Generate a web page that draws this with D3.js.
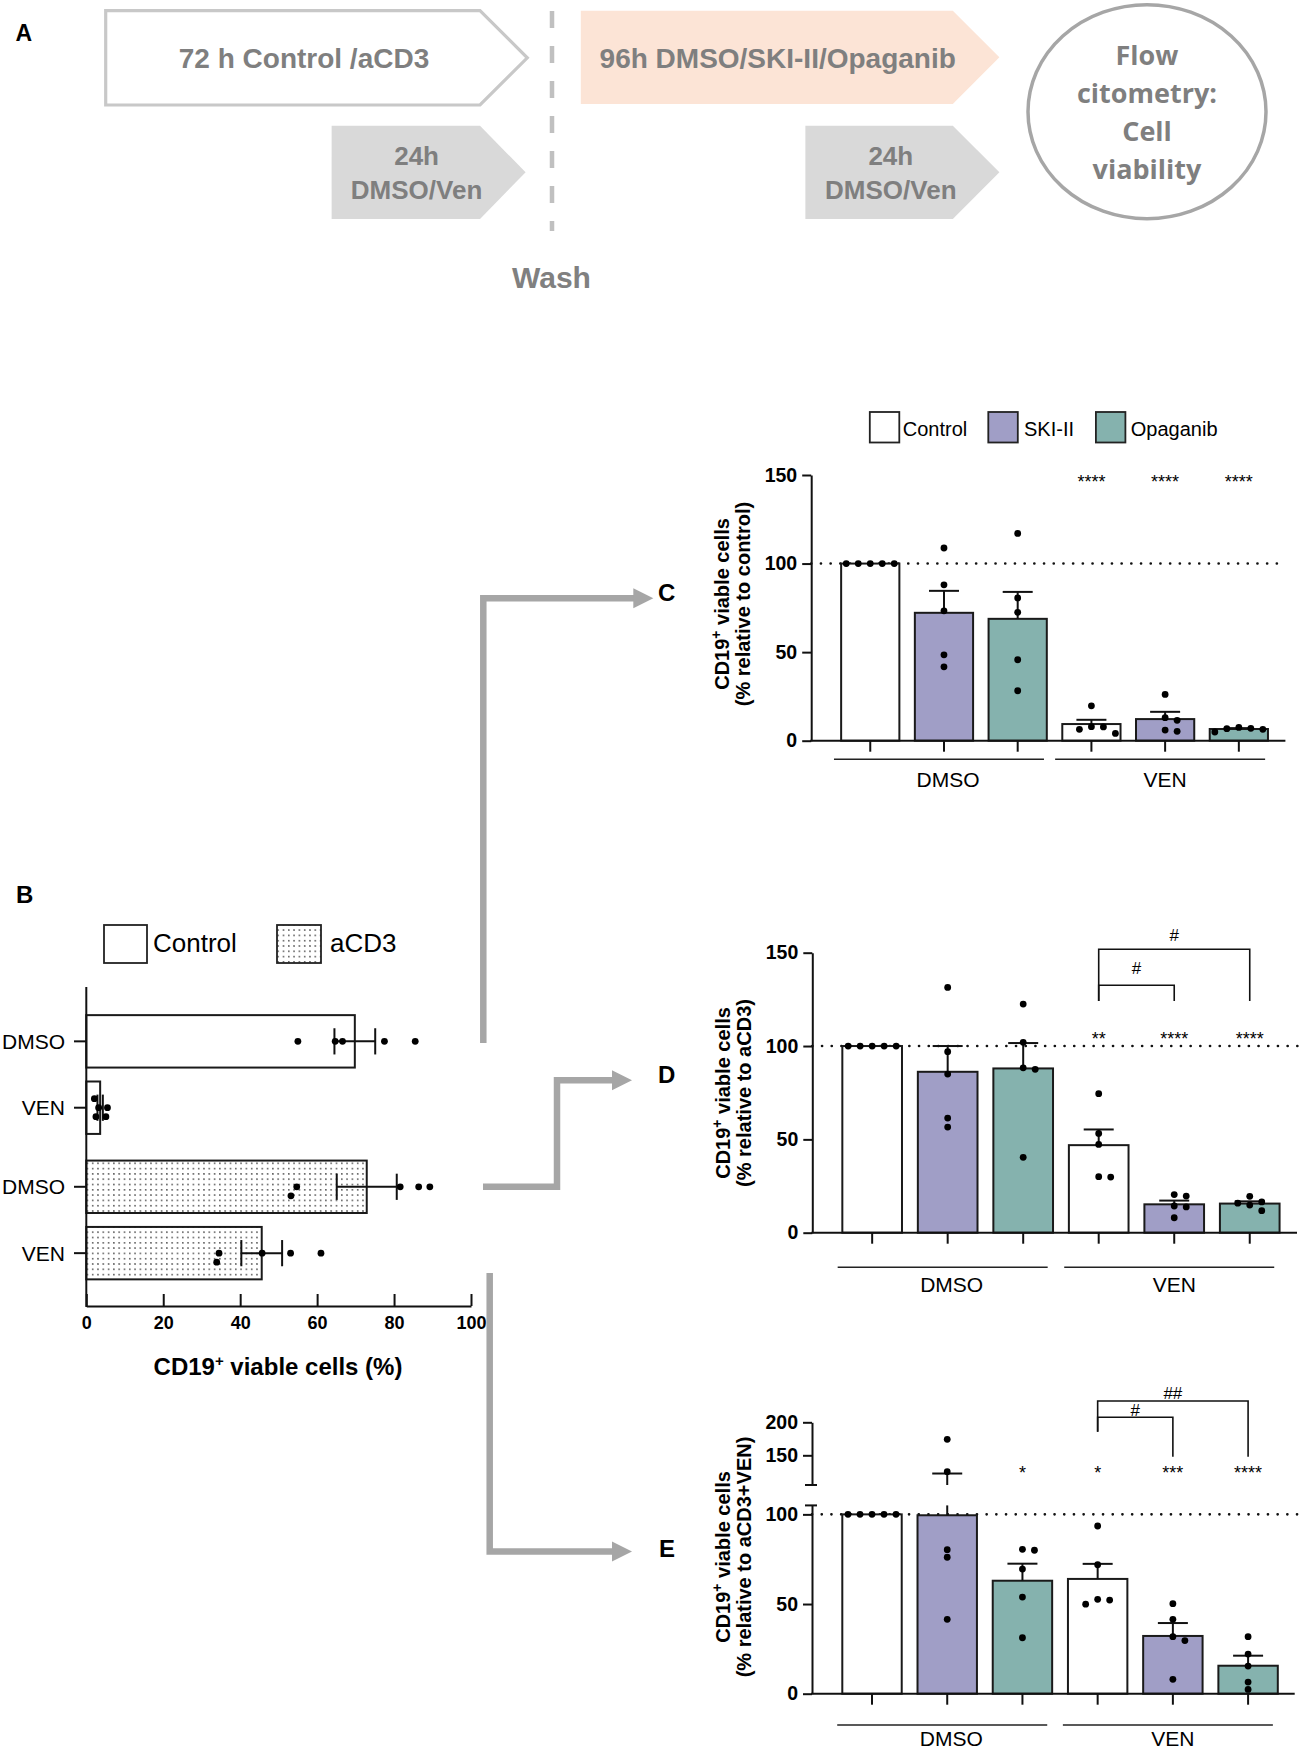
<!DOCTYPE html>
<html><head><meta charset="utf-8">
<script src="https://cdn.jsdelivr.net/npm/d3@7"></script>
<style>body{margin:0;background:#fff}svg{display:block}</style>
</head><body>
<svg id="fig" width="1299" height="1752" xmlns="http://www.w3.org/2000/svg"></svg>
<script>
// ---------------- DATA ----------------
// Panel B
const bGroups = ["Control", "aCD3"];
const bCategories = ["DMSO", "VEN"];
const bMeans = [69.8, 3.6, 72.9, 45.6];
const bSem = [5.3, 0.7, 7.8, 5.3];
const bPoints = [
  [55.0, 64.7, 66.6, 77.5, 85.5],
  [2.1, 2.5, 3.2, 5.1, 5.5],
  [53.2, 54.7, 81.6, 86.4, 89.3],
  [33.9, 34.5, 45.7, 53.1, 61.0]
];
const bTicks = [0, 20, 40, 60, 80, 100];

// Panels C/D/E : 6 bars = DMSO x (Control, SKI-II, Opaganib), VEN x (Control, SKI-II, Opaganib)
const treatments = ["Control", "SKI-II", "Opaganib"];
const groupsCDE = ["DMSO", "VEN"];
const cdeTicks = [0, 50, 100, 150];

const cMeans = [100, 72.2, 68.8, 9.4, 12.2, 6.6];
const cSem = [0, 12.4, 15.2, 2.4, 4.1, 0.5];
const cPoints = [
  [100, 100, 100, 100, 100],
  [108.8, 88.0, 73.3, 48.5, 41.7],
  [117.0, 80.6, 72.5, 45.7, 28.2],
  [19.7, 7.9, 7.8, 6.4, 4.1],
  [26.1, 13.0, 11.5, 6.0, 5.3],
  [7.5, 7.0, 6.8, 6.4, 4.9]
];
const cStars = ["", "", "", "****", "****", "****"];

const dMeans = [100, 86.2, 88.0, 46.9, 15.2, 15.6];
const dSem = [0, 13.8, 13.6, 8.4, 2.0, 1.2];
const dPoints = [
  [100, 100, 100, 100, 100],
  [131.4, 97.0, 85.0, 61.4, 56.6],
  [122.5, 102.0, 88.3, 87.5, 40.4],
  [74.5, 53.2, 47.3, 30.0, 29.8],
  [20.4, 19.6, 14.3, 13.8, 8.0],
  [19.5, 16.5, 15.8, 14.8, 11.8]
];
const dStars = ["", "", "", "**", "****", "****"];
const dBrackets = [{from: 3, to: 4, label: "#"}, {from: 3, to: 5, label: "#"}];

const eMeans = [100, 99.5, 63.0, 64.0, 32.2, 15.6];
const eSem = [0, 22.9, 9.5, 8.4, 7.2, 5.6];
const ePoints = [
  [100, 100, 100, 100, 100],
  [174.2, 125.2, 80.3, 76.1, 41.5],
  [80.5, 80.0, 69.5, 53.9, 31.2],
  [93.5, 71.9, 52.6, 52.2, 49.9],
  [50.2, 41.5, 31.8, 29.6, 8.0],
  [31.8, 22.1, 15.4, 6.5, 2.4]
];
const eStars = ["", "", "*", "*", "***", "****"];
const eBrackets = [{from: 3, to: 4, label: "#"}, {from: 3, to: 5, label: "##"}];
const eTicksLower = [0, 50, 100];
const eTicksUpper = [150, 200];
const eBreakValue = 105;

// ---------------- STYLE ----------------
const F = "'Liberation Sans', Arial, Helvetica, sans-serif";
const treatColors = ["#ffffff", "#a09ec6", "#85b2ae"];
const GRAYTXT = "#7f7f7f";
const ARROW = "#a6a6a6";

const svg = d3.select("#fig");
const defs = svg.append("defs");
const pat = defs.append("pattern").attr("id", "dots").attr("width", 5.3).attr("height", 5.3)
  .attr("patternUnits", "userSpaceOnUse");
pat.append("rect").attr("width", 5.3).attr("height", 5.3).attr("fill", "#fff");
pat.append("circle").attr("cx", 2.6).attr("cy", 2.6).attr("r", 0.75).attr("fill", "#222");

function txt(x, y, s, size, opts = {}) {
  return svg.append("text").attr("x", x).attr("y", y).text(s)
    .attr("font-family", opts.family || F).attr("font-size", size)
    .attr("font-weight", opts.weight || "normal").attr("fill", opts.fill || "#000")
    .attr("text-anchor", opts.anchor || "start");
}

// beeswarm-like offsets computed from values
function swarm(values, toPx, step, minDist) {
  const order = values.map((v, i) => ({v, i, p: toPx(v)})).sort((a, b) => b.v - a.v);
  const placed = [], off = new Array(values.length);
  for (const d of order) {
    for (let k = 0; k < 40; k++) {
      const o = k === 0 ? 0 : (k % 2 === 1 ? 1 : -1) * step * Math.ceil(k / 2);
      if (placed.every(q => Math.hypot(q.p - d.p, q.o - o) >= minDist)) {
        placed.push({p: d.p, o}); off[d.i] = o; break;
      }
    }
  }
  return off;
}

// ---------------- PANEL A (schematic) ----------------
function pentagon(x0, y0, x1, tip, y1) {
  return `M${x0},${y0}H${x1}L${tip},${(y0 + y1) / 2}L${x1},${y1}H${x0}Z`;
}
txt(15.5, 41, "A", 23, {weight: "bold"});
svg.append("path").attr("d", pentagon(105.7, 10.7, 480, 527.3, 105))
  .attr("fill", "#fff").attr("stroke", "#c8c8c8").attr("stroke-width", 3.2);
txt(304, 68, "72 h Control /aCD3", 28, {weight: "bold", fill: GRAYTXT, anchor: "middle"});
svg.append("path").attr("d", pentagon(331.6, 125.7, 480, 525.6, 219)).attr("fill", "#d9d9d9");
txt(416.6, 165, "24h", 26, {weight: "bold", fill: GRAYTXT, anchor: "middle"});
txt(416.6, 199, "DMSO/Ven", 26, {weight: "bold", fill: GRAYTXT, anchor: "middle"});
svg.append("line").attr("x1", 552).attr("x2", 552).attr("y1", 11).attr("y2", 231)
  .attr("stroke", "#c0c0c0").attr("stroke-width", 4.5).attr("stroke-dasharray", "17,18");
txt(551.5, 288, "Wash", 30, {weight: "bold", fill: "#808080", anchor: "middle"});
svg.append("path").attr("d", pentagon(580.8, 10.7, 952.8, 999.4, 104)).attr("fill", "#fce4d6");
txt(777.7, 68, "96h DMSO/SKI-II/Opaganib", 28, {weight: "bold", fill: GRAYTXT, anchor: "middle"});
svg.append("path").attr("d", pentagon(805.4, 125.7, 952.8, 999.4, 219)).attr("fill", "#d9d9d9");
txt(890.8, 165, "24h", 26, {weight: "bold", fill: GRAYTXT, anchor: "middle"});
txt(890.8, 199, "DMSO/Ven", 26, {weight: "bold", fill: GRAYTXT, anchor: "middle"});
svg.append("ellipse").attr("cx", 1147).attr("cy", 111.7).attr("rx", 119).attr("ry", 107)
  .attr("fill", "#fff").attr("stroke", "#a6a6a6").attr("stroke-width", 3.5);
["Flow", "citometry:", "Cell", "viability"].forEach((s, i) =>
  txt(1147, 65 + i * 38, s, 27, {weight: "bold", fill: GRAYTXT, anchor: "middle", family: "'Open Sans', 'Noto Sans', sans-serif"}));

// ---------------- ARROWS ----------------
function arrow(d, tipX, tipY) {
  svg.append("path").attr("d", d).attr("fill", "none").attr("stroke", ARROW).attr("stroke-width", 6.5);
  svg.append("path").attr("d", `M${tipX - 20},${tipY - 10}L${tipX},${tipY}L${tipX - 20},${tipY + 10}Z`).attr("fill", ARROW);
}
arrow("M483.3,1043V598.3H635", 653.3, 598.3);
arrow("M483,1186.7H557V1080.3H614", 632, 1080.3);
arrow("M489.7,1273V1551.5H614", 632, 1551.5);
txt(658, 601, "C", 24, {weight: "bold"});
txt(658, 1083, "D", 24, {weight: "bold"});
txt(659, 1557, "E", 24, {weight: "bold"});

// ---------------- PANEL B ----------------
txt(16, 903, "B", 24, {weight: "bold"});
svg.append("rect").attr("x", 104).attr("y", 925).attr("width", 43).attr("height", 38)
  .attr("fill", "#fff").attr("stroke", "#222").attr("stroke-width", 1.8);
txt(153, 952, bGroups[0], 26);
svg.append("rect").attr("x", 277).attr("y", 925).attr("width", 44).attr("height", 38)
  .attr("fill", "url(#dots)").attr("stroke", "#222").attr("stroke-width", 1.8);
txt(330, 952, bGroups[1], 26);

const bx = d3.scaleLinear().domain([0, 100]).range([86.3, 471]);
const bOuter = d3.scaleBand().domain(bGroups).range([1008.5, 1286]).paddingInner(0.092);
const bInner = d3.scaleBand().domain(bCategories).range([0, bOuter.bandwidth()]).paddingInner(0.21).paddingOuter(0.1);
const bRows = [];
bGroups.forEach((g, gi) => bCategories.forEach((c, ci) => bRows.push({g, c, idx: gi * bCategories.length + ci})));
const bY = r => bOuter(r.g) + bInner(r.c);
const bBW = bInner.bandwidth();
const B = svg.append("g");
B.selectAll("rect.bar").data(bRows).join("rect").attr("class", "bar")
  .attr("x", bx(0)).attr("y", r => bY(r)).attr("height", bBW)
  .attr("width", r => bx(bMeans[r.idx]) - bx(0))
  .attr("fill", r => r.g === "aCD3" ? "url(#dots)" : "#fff")
  .attr("stroke", "#1a1a1a").attr("stroke-width", 2);
bRows.forEach(r => {
  const cy = bY(r) + bBW / 2, m = bMeans[r.idx], s = bSem[r.idx];
  B.append("line").attr("x1", bx(m - s)).attr("x2", bx(m + s)).attr("y1", cy).attr("y2", cy).attr("stroke", "#111").attr("stroke-width", 2);
  [m - s, m + s].forEach(v => B.append("line").attr("x1", bx(v)).attr("x2", bx(v))
    .attr("y1", cy - bBW / 4).attr("y2", cy + bBW / 4).attr("stroke", "#111").attr("stroke-width", 2));
  const vals = bPoints[r.idx];
  const offs = swarm(vals, bx, 9, 7.2);
  vals.forEach((v, j) => B.append("circle").attr("cx", bx(v)).attr("cy", cy + offs[j]).attr("r", 3.4).attr("fill", "#000"));
  // category tick + label
  B.append("line").attr("x1", 74).attr("x2", bx(0)).attr("y1", cy).attr("y2", cy).attr("stroke", "#111").attr("stroke-width", 2);
  B.append("text").attr("x", 65).attr("y", cy + 7.5).attr("text-anchor", "end").attr("font-family", F).attr("font-size", 21).text(r.c);
});
B.append("line").attr("x1", bx(0)).attr("x2", bx(0)).attr("y1", 987).attr("y2", 1307).attr("stroke", "#111").attr("stroke-width", 2);
const bAxis = B.append("g").attr("transform", "translate(0,1306)")
  .call(d3.axisBottom(bx).tickValues(bTicks).tickSizeInner(-12).tickSizeOuter(0).tickPadding(10));
bAxis.selectAll("path,line").attr("stroke", "#111").attr("stroke-width", 2);
bAxis.selectAll("text").attr("font-family", F).attr("font-size", 18).attr("font-weight", "bold").attr("fill", "#000");
{
  const t = txt(278, 1375, "", 24, {weight: "bold", anchor: "middle"});
  t.append("tspan").text("CD19");
  t.append("tspan").attr("dy", -9).attr("font-size", 15).text("+");
  t.append("tspan").attr("dy", 9).text(" viable cells (%)");
}

// ---------------- LEGEND C/D/E ----------------
[[869.8, 902.8], [988.3, 1024], [1095.9, 1130.8]].forEach((p, i) => {
  svg.append("rect").attr("x", p[0]).attr("y", 412).attr("width", 29.5).attr("height", 30.5)
    .attr("fill", treatColors[i]).attr("stroke", "#222").attr("stroke-width", 1.8);
  txt(p[1], 436, treatments[i], 20);
});

// ---------------- PANELS C/D/E ----------------
function barPanel(o) {
  const g = svg.append("g");
  const n = o.means.length;
  const x = d3.scaleBand().domain(d3.range(n)).range(o.xr).paddingInner(0.21).paddingOuter(0.105);
  const cx = i => x(i) + x.bandwidth() / 2;
  const y = o.y, y0 = y(0), ax = o.axisX;
  // dotted reference line at 100
  g.append("line").attr("x1", ax).attr("x2", o.dotEnd).attr("y1", y(100)).attr("y2", y(100))
    .attr("stroke", "#111").attr("stroke-width", 2.6).attr("stroke-dasharray", "0.1,9.6").attr("stroke-linecap", "round");
  // bars
  g.selectAll("rect.bar").data(o.means).join("rect").attr("class", "bar")
    .attr("x", (d, i) => x(i)).attr("width", x.bandwidth())
    .attr("y", d => y(d)).attr("height", d => y0 - y(d))
    .attr("fill", (d, i) => treatColors[i % treatments.length])
    .attr("stroke", "#1a1a1a").attr("stroke-width", 2);
  // error bars (upper SEM)
  o.means.forEach((m, i) => {
    const s = o.sems[i];
    if (!s) return;
    const top = m + s;
    const seg = (a, b) => g.append("line").attr("x1", cx(i)).attr("x2", cx(i)).attr("y1", y(a)).attr("y2", y(b)).attr("stroke", "#111").attr("stroke-width", 2);
    if (o.brk && m < o.brk && top > o.brk) { seg(m, o.brk); g.append("line").attr("x1", cx(i)).attr("x2", cx(i)).attr("y1", o.yUp(o.brk)).attr("y2", y(top)).attr("stroke", "#111").attr("stroke-width", 2); }
    else seg(m, top);
    g.append("line").attr("x1", cx(i) - 15).attr("x2", cx(i) + 15).attr("y1", y(top)).attr("y2", y(top)).attr("stroke", "#111").attr("stroke-width", 2);
  });
  // points
  o.points.forEach((vals, i) => {
    const offs = swarm(vals, y, 12, 7);
    vals.forEach((v, j) => g.append("circle").attr("cx", cx(i) + offs[j]).attr("cy", y(v)).attr("r", 3.4).attr("fill", "#000"));
  });
  // x axis
  g.append("line").attr("x1", ax - 1).attr("x2", o.axisEnd).attr("y1", y0).attr("y2", y0).attr("stroke", "#111").attr("stroke-width", 2);
  d3.range(n).forEach(i => g.append("line").attr("x1", cx(i)).attr("x2", cx(i)).attr("y1", y0).attr("y2", y0 + 11).attr("stroke", "#111").attr("stroke-width", 2));
  // y axis
  o.yAxes.forEach(a => {
    const ag = g.append("g").attr("transform", `translate(${ax},0)`)
      .call(d3.axisLeft(a.scale).tickValues(a.ticks).tickSize(9).tickPadding(5).tickSizeOuter(0));
    ag.selectAll("path,line").attr("stroke", "#111").attr("stroke-width", 2);
    ag.selectAll("text").attr("font-family", F).attr("font-size", 19.5).attr("font-weight", "bold").attr("fill", "#000");
  });
  if (o.brk) {
    [o.yUp(o.brk), o.y(o.brk)].forEach(yy => g.append("line").attr("x1", ax - 7).attr("x2", ax + 5).attr("y1", yy).attr("y2", yy).attr("stroke", "#111").attr("stroke-width", 2));
  }
  // group underlines + labels
  groupsCDE.forEach((gname, gi) => {
    const c = (cx(gi * 3) + cx(gi * 3 + 2)) / 2;
    g.append("line").attr("x1", c - 110).attr("x2", c + 100).attr("y1", o.groupLineY).attr("y2", o.groupLineY).attr("stroke", "#222").attr("stroke-width", 1.6);
    g.append("text").attr("x", c + (gi === 0 ? 4 : 0)).attr("y", o.groupLabelY).attr("text-anchor", "middle").attr("font-family", F).attr("font-size", 21).text(gname);
  });
  // stars
  o.stars.forEach((s, i) => {
    if (!s) return;
    g.append("text").attr("x", cx(i)).attr("y", o.starY + 10).attr("text-anchor", "middle").attr("font-family", F).attr("font-size", 18).text(s);
  });
  // brackets
  (o.brackets || []).forEach((b, k) => {
    const L = o.bracketLayout[k];
    const x1 = cx(b.from), x2 = cx(b.to);
    g.append("path").attr("d", `M${x1},${L.legL}V${L.top}H${x2}V${L.legR}`).attr("fill", "none").attr("stroke", "#111").attr("stroke-width", 1.6);
    g.append("text").attr("x", (x1 + x2) / 2).attr("y", L.labelY + 6).attr("text-anchor", "middle").attr("font-family", F).attr("font-size", 17).text(b.label);
  });
  // y label
  const t1 = g.append("text").attr("transform", `translate(${o.labelX1},${o.labelCY}) rotate(-90)`)
    .attr("text-anchor", "middle").attr("font-family", F).attr("font-size", 20).attr("font-weight", "bold");
  t1.append("tspan").text("CD19");
  t1.append("tspan").attr("dy", -8).attr("font-size", 14).text("+");
  t1.append("tspan").attr("dy", 8).text(" viable cells");
  g.append("text").attr("transform", `translate(${o.labelX2},${o.labelCY}) rotate(-90)`)
    .attr("text-anchor", "middle").attr("font-family", F).attr("font-size", 20).attr("font-weight", "bold").text(o.label2);
}

const yC = d3.scaleLinear().domain([0, 150]).range([740.7, 475]);
barPanel({
  means: cMeans, sems: cSem, points: cPoints, stars: cStars,
  xr: [833.4, 1275.7], y: yC, axisX: 811.2, axisEnd: 1285.4, dotEnd: 1285.4,
  yAxes: [{scale: yC, ticks: cdeTicks}],
  groupLineY: 759.3, groupLabelY: 787, starY: 478,
  labelX1: 729, labelX2: 750, labelCY: 604, label2: "(% relative to control)"
});

const yD = d3.scaleLinear().domain([0, 150]).range([1232.7, 952.7]);
barPanel({
  means: dMeans, sems: dSem, points: dPoints, stars: dStars, brackets: dBrackets,
  bracketLayout: [{top: 985.3, legL: 1001, legR: 1001, labelY: 967.7}, {top: 949.3, legL: 1001, legR: 1001, labelY: 935}],
  xr: [834.4, 1287.5], y: yD, axisX: 812.3, axisEnd: 1297, dotEnd: 1299,
  yAxes: [{scale: yD, ticks: cdeTicks}],
  groupLineY: 1267.3, groupLabelY: 1292, starY: 1035,
  labelX1: 730, labelX2: 751, labelCY: 1093, label2: "(% relative to aCD3)"
});

const yElow = d3.scaleLinear().domain([0, eBreakValue]).range([1693.7, 1505.4]);
const yEup = d3.scaleLinear().domain([eBreakValue, 200]).range([1485, 1422.3]);
const yE = v => v <= eBreakValue ? yElow(v) : yEup(v);
barPanel({
  means: eMeans, sems: eSem, points: ePoints, stars: eStars, brackets: eBrackets,
  bracketLayout: [{top: 1417.3, legL: 1431.7, legR: 1456.7, labelY: 1410}, {top: 1401, legL: 1431.7, legR: 1456.7, labelY: 1392.7}],
  xr: [834.4, 1285.7], y: yE, yUp: yEup, brk: eBreakValue, axisX: 812, axisEnd: 1294.7, dotEnd: 1299,
  yAxes: [{scale: yElow, ticks: eTicksLower}, {scale: yEup, ticks: eTicksUpper}],
  groupLineY: 1725, groupLabelY: 1746, starY: 1469,
  labelX1: 730, labelX2: 751, labelCY: 1557, label2: "(% relative to aCD3+VEN)"
});
</script>
</body></html>
